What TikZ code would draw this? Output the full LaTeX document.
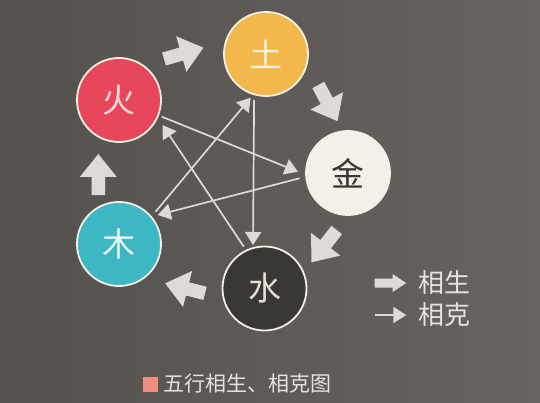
\documentclass[tikz,border=0pt]{standalone}
\usepackage{fontspec}
\newfontfamily\cjk{Noto Sans CJK SC}
\usetikzlibrary{arrows.meta,calc}
\definecolor{bgL}{HTML}{55524E}
\definecolor{bgR}{HTML}{67645F}
\definecolor{arrowfill}{HTML}{DEDAD5}
\definecolor{huoc}{HTML}{E8475B}
\definecolor{tuc}{HTML}{F3B84C}
\definecolor{jinc}{HTML}{F2F0E9}
\definecolor{muc}{HTML}{3DB7C3}
\definecolor{shuic}{HTML}{3A3834}
\definecolor{rimc}{HTML}{F4F0E6}
\definecolor{txtc}{HTML}{E6E2DC}
\definecolor{capc}{HTML}{F28B80}
\definecolor{huoT}{HTML}{F8D9DC}
\definecolor{tuT}{HTML}{FCF1DA}
\definecolor{jinT}{HTML}{3A3733}
\definecolor{muT}{HTML}{E9F7F8}
\definecolor{shuiT}{HTML}{E4E0D8}
\begin{document}
\begin{tikzpicture}[x=1pt,y=1pt,
  elem/.style={circle, draw=rimc, line width=1.8pt, minimum size=84pt, inner sep=0pt, font=\cjk\fontsize{33}{33}\selectfont},
  ke/.style={draw=arrowfill, line width=1.7pt, -{Triangle[length=13pt,width=16pt]}},
  pics/shengarrow/.style={code={\fill[arrowfill] (0,-6.75) -- (18,-6.75) -- (18,-18.5) -- (41,0) -- (18,18.5) -- (18,6.75) -- (0,6.75) -- cycle;}},
  pics/legarrow/.style={code={\fill[arrowfill] (0,-4.5) -- (18,-4.5) -- (18,-9) -- (31.5,0) -- (18,9) -- (18,4.5) -- (0,4.5) -- cycle;}},
  legtext/.style={text=txtc, inner sep=0pt, anchor=west, font=\cjk\fontsize{26}{26}\selectfont}
]
\shade[left color=bgL, right color=bgR] (0,0) rectangle (540,402);
\useasboundingbox (0,0) rectangle (540,402);

% five elements
\node[elem, fill=huoc, text=huoT] (huo) at (119,302) {火};
\node[elem, fill=tuc, text=tuT] (tu) at (266,348) {土};
\node[elem, fill=jinc, text=jinT] (jin) at (348,229) {金};
\node[elem, fill=muc, text=muT] (mu) at (119,158) {木};
\node[elem, fill=shuic, text=shuiT] (shui) at (264.5,113.5) {水};

% generating cycle (block arrows)
\pic[rotate=90] (s1) at (98.3,207) {shengarrow};
\pic[rotate=16] (s2) at (164,343) {shengarrow};
\pic[rotate=-62] (s3) at (318.3,317) {shengarrow};
\pic[rotate=-128] (s4) at (336.7,172) {shengarrow};
\pic[rotate=166] (s5) at (205,108.7) {shengarrow};

% overcoming cycle (thin arrows)
\draw[ke] ($(huo)+(42.8,-16.7)$) -- ($(jin)+(-50.1,1.3)$);
\draw[ke] ($(jin)+(-48.4,-5.3)$) -- ($(mu)+(38.7,29)$);
\draw[ke] ($(mu)+(36.6,32.3)$) -- ($(tu)+(-15.3,-43.7)$);
\draw[ke] ($(tu)+(-11.9,-46)$) -- ($(shui)+(-11.5,43.5)$);
\draw[ke] ($(shui)+(-20.7,41.8)$) -- ($(huo)+(43.5,-25)$);

% legend
\pic (lg1) at (374.7,119) {legarrow};
\node[legtext] (ls) at (418,119) {相生};
\coordinate (lk1) at (374.7,87);
\coordinate (lk2) at (406.3,87);
\draw[ke] (lk1) -- (lk2);
\node[legtext] (lk) at (418,87) {相克};

% caption
\node[fill=capc, minimum size=15pt, inner sep=0pt] (sq) at (150.5,17.3) {};
\node[anchor=west, inner sep=0pt, text=txtc, font=\cjk\fontsize{21}{21}\selectfont] (cap) at (163.5,18.5) {五行相生、相克图};
\end{tikzpicture}
\end{document}
